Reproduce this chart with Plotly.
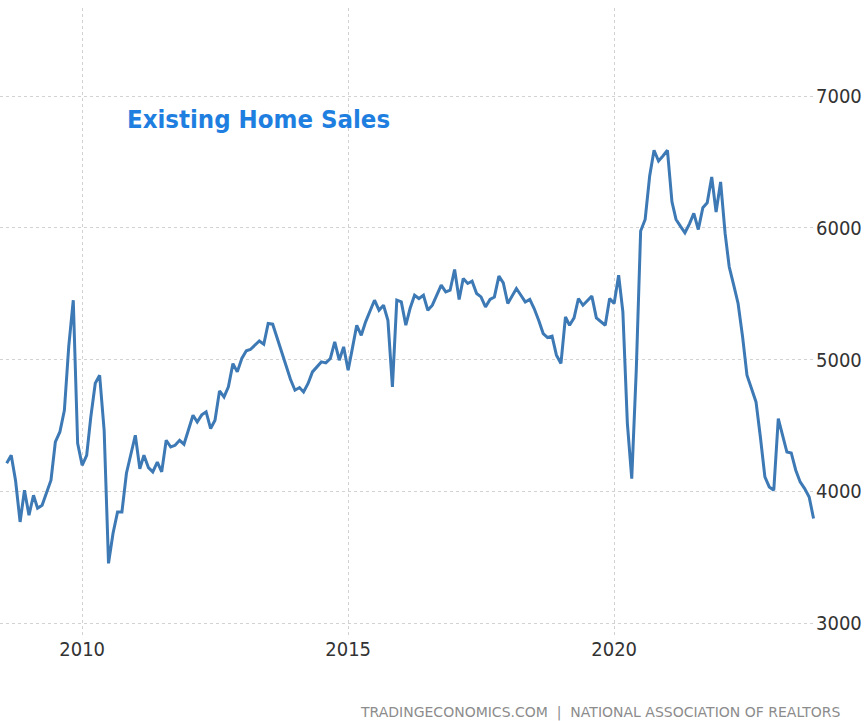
import pandas as pd
import plotly.graph_objects as go

# Existing home sales (thousands, SAAR), monthly, Aug 2008 - Oct 2023
start_month = "2008-08-01"
y2008 = [4213, 4273, 4080, 3767, 4008]
y2009 = [3818, 3970, 3871, 3894, 3990, 4084, 4374, 4450, 4615, 5100, 5450, 4364]
y2010 = [4197, 4273, 4560, 4820, 4880, 4463, 3453, 3681, 3843, 3843, 4137, 4290]
y2011 = [4425, 4170, 4273, 4180, 4147, 4222, 4147, 4387, 4336, 4349, 4387, 4357]
y2012 = [4470, 4577, 4526, 4580, 4602, 4476, 4539, 4762, 4716, 4792, 4969, 4906]
y2013 = [5008, 5066, 5076, 5110, 5141, 5116, 5273, 5268, 5160, 5060, 4944, 4850]
y2014 = [4767, 4787, 4754, 4818, 4906, 4944, 4982, 4974, 5008, 5134, 4995, 5096]
y2015 = [4919, 5096, 5260, 5184, 5286, 5370, 5450, 5374, 5412, 5298, 4792, 5450]
y2016 = [5437, 5260, 5387, 5488, 5463, 5488, 5374, 5412, 5490, 5564, 5513, 5526]
y2017 = [5683, 5456, 5615, 5577, 5595, 5501, 5475, 5399, 5456, 5475, 5633, 5582]
y2018 = [5425, 5488, 5539, 5488, 5437, 5456, 5387, 5298, 5197, 5167, 5177, 5033]
y2019 = [4970, 5323, 5260, 5316, 5463, 5412, 5450, 5481, 5316, 5286, 5260, 5463]
y2020 = [5425, 5640, 5361, 4514, 4096, 4919, 5975, 6063, 6393, 6588, 6507, 6545]
y2021 = [6588, 6197, 6063, 6010, 5962, 6030, 6109, 5987, 6152, 6190, 6386, 6120]
y2022 = [6348, 5957, 5704, 5564, 5425, 5172, 4881, 4780, 4678, 4412, 4109, 4033]
y2023 = [4008, 4552, 4425, 4298, 4291, 4160, 4071, 4020, 3957, 3793]

values = (y2008 + y2009 + y2010 + y2011 + y2012 + y2013 + y2014 + y2015
          + y2016 + y2017 + y2018 + y2019 + y2020 + y2021 + y2022 + y2023)
dates = pd.date_range(start_month, periods=len(values), freq="MS")

x_tick_vals = ["2010-01-01", "2015-01-01", "2020-01-01"]
x_tick_text = ["2010", "2015", "2020"]
y_tick_vals = [3000, 4000, 5000, 6000, 7000]
y_tick_text = ["3000", "4000", "5000", "6000", "7000"]

title_text = "Existing Home Sales"
source_text = "TRADINGECONOMICS.COM  |  NATIONAL ASSOCIATION OF REALTORS"

W, H = 866, 721
ml, mr, mt, mb = 0, 51, 8, 86
pw = W - ml - mr
ph = H - mt - mb

tick_font = dict(family="DejaVu Sans Condensed, sans-serif",
                 size=20, color="#333333")

fig = go.Figure()
fig.add_trace(go.Scatter(
    x=dates, y=values, mode="lines",
    line=dict(color="#3d79b5", width=3),
    hoverinfo="skip", showlegend=False,
))

fig.update_layout(
    width=W, height=H,
    margin=dict(l=ml, r=mr, t=mt, b=mb),
    paper_bgcolor="white", plot_bgcolor="white",
    xaxis=dict(
        range=["2008-06-16", "2023-10-11"],
        tickvals=x_tick_vals, ticktext=x_tick_text,
        showgrid=True, gridcolor="#d2d2d2", griddash="dot", gridwidth=1,
        zeroline=False, showline=False, ticks="",
        tickfont=tick_font,
    ),
    yaxis=dict(
        side="right",
        range=[2909, 7668],
        tickvals=y_tick_vals, ticktext=y_tick_text,
        showgrid=True, gridcolor="#d2d2d2", griddash="dot", gridwidth=1,
        zeroline=False, showline=False, ticks="",
        tickfont=tick_font,
    ),
    annotations=[
        dict(text="<b>" + title_text + "</b>", xref="paper", yref="paper",
             x=125 / pw, y=(H - mb - 119) / ph, xanchor="left", yanchor="middle",
             showarrow=False,
             font=dict(family="DejaVu Sans Condensed, DejaVu Sans, sans-serif",
                       size=25.5, color="#1f7fe0")),
        dict(text=source_text, xref="paper", yref="paper",
             x=843 / pw, y=(H - mb - 712) / ph, xanchor="right", yanchor="middle",
             showarrow=False,
             font=dict(family="DejaVu Sans, sans-serif", size=14, color="#8c8c8c")),
    ],
)

fig.write_html("out.html")
